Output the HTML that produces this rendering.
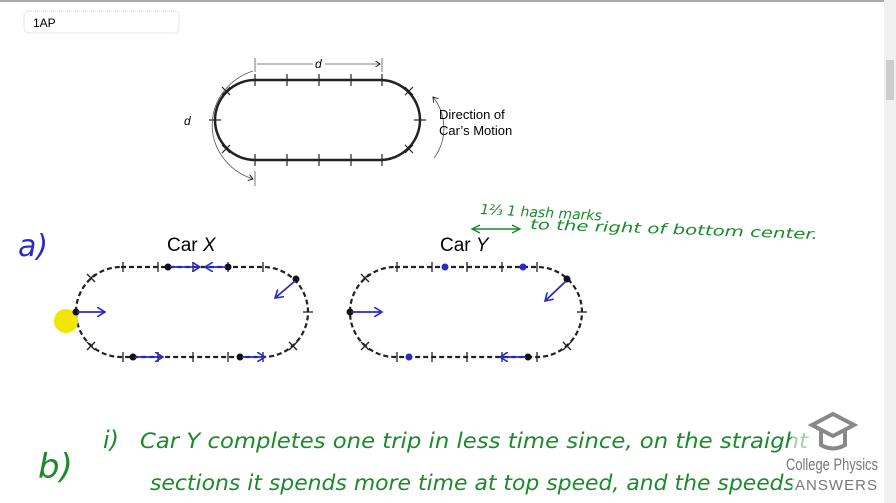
<!DOCTYPE html>
<html><head><meta charset="utf-8"><style>
html,body{margin:0;padding:0;background:#fff;width:896px;height:503px;overflow:hidden}
svg{display:block}
.hw{font-family:"DejaVu Sans","Liberation Sans",sans-serif;font-style:italic}
</style></head><body>
<svg width="896" height="503" viewBox="0 0 896 503" xmlns="http://www.w3.org/2000/svg">
<defs>
<marker id="ah" markerWidth="8" markerHeight="8" refX="6" refY="4" orient="auto"><path d="M0,0 L6,4 L0,8" fill="none" stroke="#000" stroke-width="1"/></marker>
<marker id="bh" markerWidth="10" markerHeight="10" refX="8" refY="5" orient="auto" markerUnits="userSpaceOnUse"><path d="M0,0 L8,5 L0,10" fill="none" stroke="#2a2ac8" stroke-width="1.6"/></marker>
<marker id="gh" markerWidth="10" markerHeight="10" refX="8" refY="5" orient="auto-start-reverse" markerUnits="userSpaceOnUse"><path d="M0,1 L8,5 L0,9" fill="none" stroke="#1a8a2a" stroke-width="1.4"/></marker>
</defs>
<rect x="0" y="0" width="896" height="2" fill="#aaa"/>
<rect x="884" y="0" width="12" height="503" fill="#f0f0f0"/>
<rect x="886" y="60" width="8" height="40" fill="#ccc"/>
<rect x="24" y="11" width="155" height="22" rx="5" fill="#fff" stroke="#ccc" stroke-dasharray="1,1"/>
<text x="33" y="27" font-family="Liberation Sans,sans-serif" font-size="12" fill="#000">1AP</text>

<path d="M255,80 L380,80 A40,40 0 0 1 380,160 L255,160 A40,40 0 0 1 255,80 Z" fill="none" stroke="#222" stroke-width="2.5"/>
<g stroke="#222" stroke-width="1.2">
<line x1="255" y1="74" x2="255" y2="86"/><line x1="287" y1="74" x2="287" y2="86"/><line x1="319" y1="74" x2="319" y2="86"/><line x1="351" y1="74" x2="351" y2="86"/><line x1="382" y1="74" x2="382" y2="86"/>
<line x1="255" y1="154" x2="255" y2="166"/><line x1="287" y1="154" x2="287" y2="166"/><line x1="319" y1="154" x2="319" y2="166"/><line x1="351" y1="154" x2="351" y2="166"/><line x1="382" y1="154" x2="382" y2="166"/>
<line x1="209" y1="120" x2="221" y2="120"/><line x1="414" y1="120" x2="426" y2="120"/>
<line x1="222" y1="87" x2="230" y2="95"/><line x1="230" y1="87" x2="222" y2="95"/>
<line x1="222" y1="145" x2="230" y2="153"/><line x1="230" y1="145" x2="222" y2="153"/>
<line x1="405" y1="87" x2="413" y2="95"/><line x1="413" y1="87" x2="405" y2="95"/>
<line x1="405" y1="145" x2="413" y2="153"/><line x1="413" y1="145" x2="405" y2="153"/>
</g>
<g stroke="#555" stroke-width="0.8" fill="none">
<line x1="255" y1="58" x2="255" y2="72"/><line x1="382" y1="58" x2="382" y2="72"/>
<line x1="257" y1="64" x2="313" y2="64"/><line x1="325" y1="64" x2="380" y2="64" marker-end="url(#ah)"/>
<path d="M253,71 A60,57 0 0 0 253,179" marker-end="url(#ah)"/>
<line x1="255" y1="171" x2="255" y2="186"/>
<path d="M434,158 A50,50 0 0 0 433,97" marker-end="url(#ah)"/>
</g>
<text x="315" y="68" font-family="Liberation Sans,sans-serif" font-size="12" font-style="italic">d</text>
<text x="184" y="125" font-family="Liberation Sans,sans-serif" font-size="12" font-style="italic">d</text>
<text x="439" y="119" font-family="Liberation Sans,sans-serif" font-size="13">Direction of</text>
<text x="439" y="135" font-family="Liberation Sans,sans-serif" font-size="13">Car’s Motion</text>

<text x="18" y="256" class="hw" font-size="30" fill="#2a2ac8">a)</text>
<text x="167" y="251" font-family="Liberation Sans,sans-serif" font-size="19">Car <tspan font-style="italic">X</tspan></text>
<text x="440" y="251" font-family="Liberation Sans,sans-serif" font-size="19">Car <tspan font-style="italic">Y</tspan></text>

<g fill="none" stroke="#222" stroke-width="2.2" stroke-dasharray="5,3">
<path d="M121,267 L263,267 A45,45 0 0 1 263,357 L121,357 A45,45 0 0 1 121,267 Z"/>
<path d="M395,267 L537,267 A45,45 0 0 1 537,357 L395,357 A45,45 0 0 1 395,267 Z"/>
</g>
<g stroke="#222" stroke-width="1.3">
<g id="tk">
<line x1="123" y1="262" x2="123" y2="272"/><line x1="158" y1="262" x2="158" y2="272"/><line x1="193" y1="262" x2="193" y2="272"/><line x1="228" y1="262" x2="228" y2="272"/><line x1="263" y1="262" x2="263" y2="272"/>
<line x1="123" y1="352" x2="123" y2="362"/><line x1="158" y1="352" x2="158" y2="362"/><line x1="193" y1="352" x2="193" y2="362"/><line x1="228" y1="352" x2="228" y2="362"/><line x1="263" y1="352" x2="263" y2="362"/>
<line x1="303" y1="312" x2="313" y2="312"/>
<line x1="87" y1="274" x2="95" y2="282"/><line x1="95" y1="274" x2="87" y2="282"/>
<line x1="87" y1="342" x2="95" y2="350"/><line x1="95" y1="342" x2="87" y2="350"/>
<line x1="289" y1="342" x2="297" y2="350"/><line x1="297" y1="342" x2="289" y2="350"/>
</g>
<use href="#tk" x="274"/>
</g>
<circle cx="66" cy="321" r="12" fill="#f2e600"/>
<g fill="#111">
<circle cx="76" cy="312" r="3.5"/><circle cx="168" cy="267" r="3.5"/><circle cx="228" cy="267" r="3.5"/><circle cx="296" cy="279" r="3.5"/><circle cx="133" cy="357" r="3.5"/><circle cx="240" cy="357" r="3.5"/>
<circle cx="350" cy="312" r="3.5"/><circle cx="567" cy="279" r="3.5"/><circle cx="528" cy="357" r="3.5"/>
</g>
<g fill="#2a2ac8"><circle cx="445" cy="267" r="3.5"/><circle cx="523" cy="267" r="3.5"/><circle cx="409" cy="357" r="3.5"/></g>
<g stroke="#2a2ac8" stroke-width="1.8" fill="none" marker-end="url(#bh)">
<line x1="77" y1="312" x2="105" y2="312"/>
<line x1="170" y1="267" x2="200" y2="267"/>
<line x1="226" y1="267" x2="205" y2="267"/>
<line x1="295" y1="281" x2="275" y2="298"/>
<line x1="135" y1="357" x2="163" y2="357"/>
<line x1="242" y1="357" x2="265" y2="357"/>
<line x1="351" y1="312" x2="382" y2="312"/>
<line x1="566" y1="281" x2="545" y2="301"/>
<line x1="526" y1="357" x2="500" y2="357"/>
</g>

<line x1="472" y1="229" x2="520" y2="229" stroke="#1a8a2a" stroke-width="1.4" marker-start="url(#gh)" marker-end="url(#gh)"/>
<text x="480" y="214" class="hw" font-size="14" fill="#1a8a2a" transform="rotate(3 480 214)">1⅔ 1 hash marks</text>
<text x="530" y="229" class="hw" font-size="14" fill="#1a8a2a" textLength="288" lengthAdjust="spacingAndGlyphs" transform="rotate(2 530 229)">to the right of bottom center.</text>

<text x="38" y="478" class="hw" font-size="34" fill="#1a8a2a" font-style="normal">b)</text>
<text x="103" y="448" class="hw" font-size="24" fill="#1a8a2a">i)</text>
<text x="140" y="448" class="hw" font-size="21" fill="#1a8a2a" textLength="668" lengthAdjust="spacingAndGlyphs">Car Y completes one trip in less time since, on the straight</text>
<text x="150" y="490" class="hw" font-size="21" fill="#1a8a2a" textLength="645" lengthAdjust="spacingAndGlyphs">sections it spends more time at top speed, and the speeds</text>

<rect x="792" y="412" width="90" height="91" fill="#fff" opacity="0.6"/>
<path d="M812,425 L833,414 L854,425 L833,436 Z M821,430 L821,445 Q833,452 845,445 L845,430" fill="none" stroke="#888" stroke-width="4"/>
<text x="786" y="470" font-family="Liberation Sans,sans-serif" font-size="17" fill="#777" textLength="92" lengthAdjust="spacingAndGlyphs">College Physics</text>
<text x="795" y="490" font-family="Liberation Sans,sans-serif" font-size="15" fill="#777" textLength="82" lengthAdjust="spacing">ANSWERS</text>
</svg>
</body></html>
